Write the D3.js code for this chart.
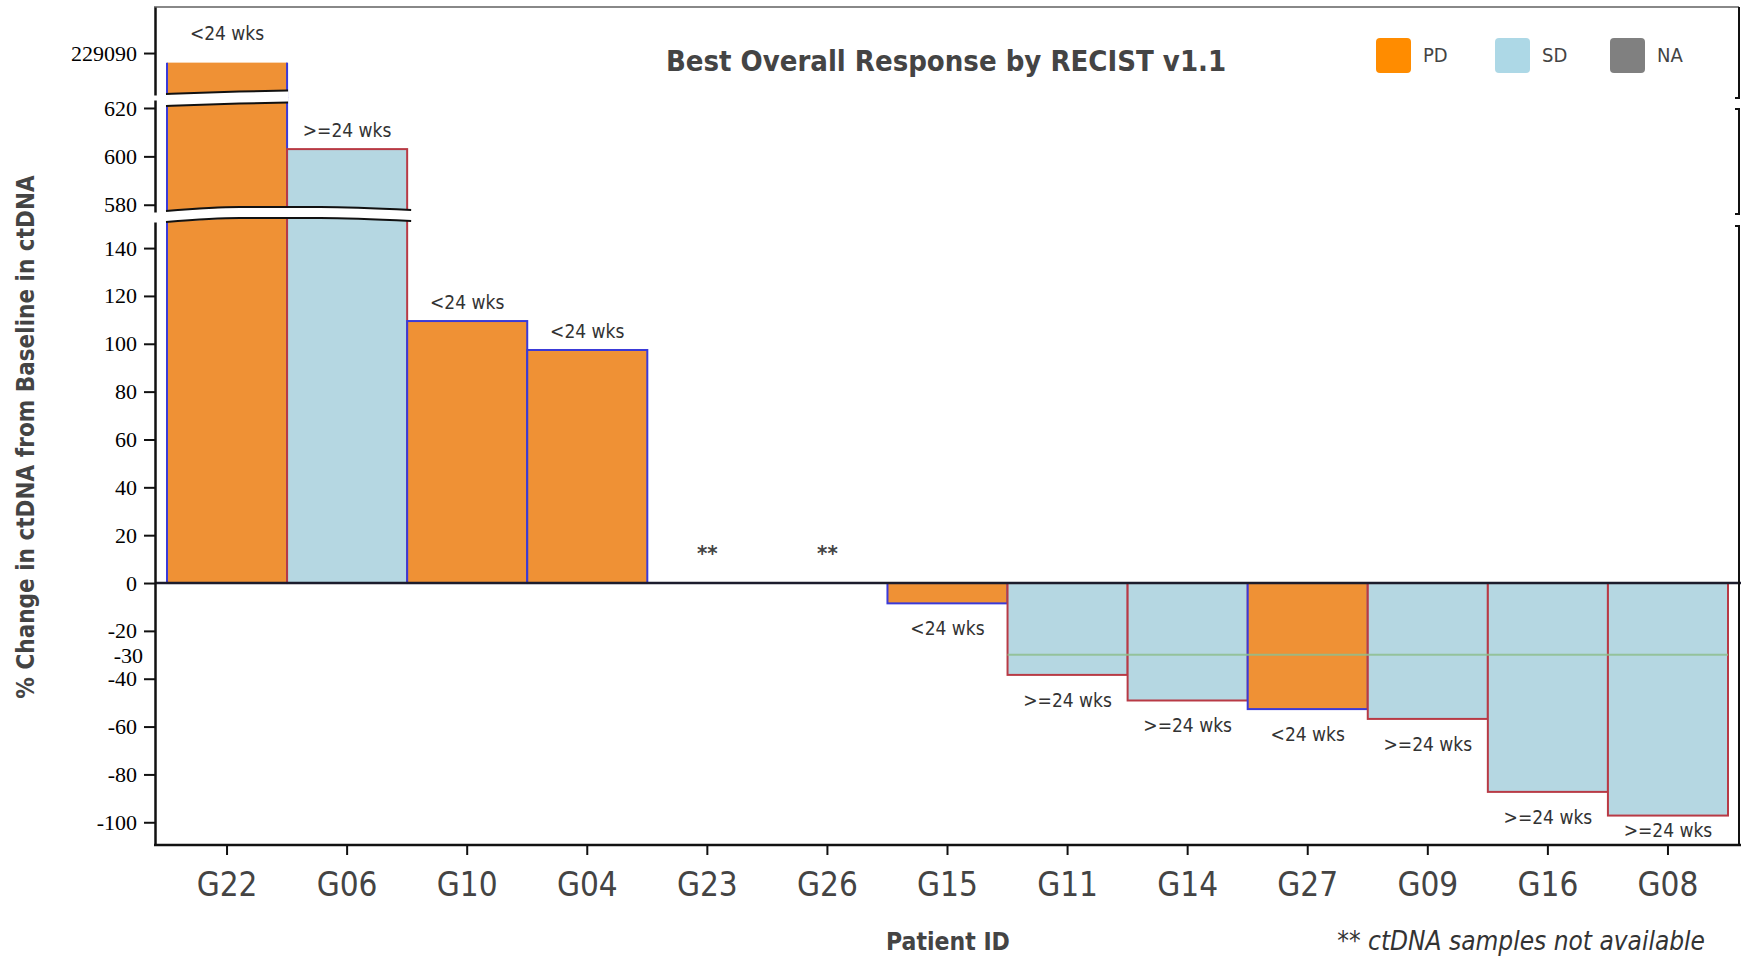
<!DOCTYPE html>
<html>
<head>
<meta charset="utf-8">
<script src="https://cdn.jsdelivr.net/npm/d3@7"></script>
<style>
  html, body { margin: 0; padding: 0; background: #fff; }
  svg { display: block; }
  text { font-family: "DejaVu Sans Condensed", "DejaVu Sans", sans-serif; }
</style>
</head>
<body>
<svg id="chart" width="1742" height="958"></svg>
<script>
// ---- data ----
const patients = ["G22","G06","G10","G04","G23","G26","G15","G11","G14","G27","G09","G16","G08"];
const pctChange = [229086, 603, 109.5, 97.4, null, null, -8.5, -38.4, -49.1, -52.7, -56.8, -87.3, -97.2];
const response  = ["PD","SD","PD","PD","NA","NA","PD","SD","SD","PD","SD","SD","SD"];
const duration  = ["<24 wks",">=24 wks","<24 wks","<24 wks","","","<24 wks",">=24 wks",">=24 wks","<24 wks",">=24 wks",">=24 wks",">=24 wks"];
const legendKeys = ["PD","SD","NA"];
const ticksTop = [229090];
const ticksMid = [580, 600, 620];
const ticksLow = [-100, -80, -60, -40, -20, 0, 20, 40, 60, 80, 100, 120, 140];
const refValue = -30;

const data = patients.map((p, i) => ({ id: p, v: pctChange[i], r: response[i], d: duration[i] }));

// ---- styles ----
const fillColor = { PD: "#EF9135", SD: "#B5D7E2", NA: "#808080" };
const strokeColor = { PD: "#3a3ad8", SD: "#b83a45", NA: "#555" };
const legendColor = { PD: "#FF8C00", SD: "#ADD8E6", NA: "#808080" };
const textGray = "#444";

const svg = d3.select("#chart");

// ---- scales ----
const x = d3.scaleBand().domain(patients).range([167, 1728]).padding(0);
const yTop = d3.scaleLinear().domain([229072.5, 229109.2]).range([95, 7]);
const yMid = d3.scaleLinear().domain([577, 623.3]).range([212, 100]);
const yLow = d3.scaleLinear().domain([-109.5, 150.9]).range([845, 222]);
const segments = [yTop, yMid, yLow];

const plotLeft = 155, plotRight = 1739;
const upperBandMid = (yTop.range()[0] + yMid.range()[1]) / 2 + 0.5;
const lowerBandMid = 215;

// ---- bars by segment ----
const gBars = svg.append("g");
segments.forEach((s, si) => {
  const [d0, d1] = s.domain();
  data.forEach(d => {
    if (d.v === null) return;
    let yA, yB;
    if (d.v >= 0) {
      if (d.v <= d0 && d0 > 0) return;
      yA = d.v > d1 ? (si === 1 ? upperBandMid : lowerBandMid) : s(d.v);
      yB = d0 > 0 ? (si === 0 ? upperBandMid : lowerBandMid) : s(0);
    } else {
      if (d0 > 0) return;
      yA = s(0);
      yB = s(Math.max(d.v, d0));
    }
    const y0 = Math.min(yA, yB), h = Math.abs(yB - yA);
    if (si === 0) {
      // top segment: flat-cut bar, side strokes only
      gBars.append("rect").attr("x", x(d.id)).attr("width", x.bandwidth())
        .attr("y", y0).attr("height", h).attr("fill", fillColor[d.r]);
      [x(d.id), x(d.id) + x.bandwidth()].forEach(xx => {
        gBars.append("line").attr("x1", xx).attr("x2", xx).attr("y1", y0).attr("y2", y0 + h)
          .attr("stroke", strokeColor[d.r]).attr("stroke-width", 2);
      });
    } else {
      gBars.append("rect")
        .attr("x", x(d.id)).attr("width", x.bandwidth())
        .attr("y", y0).attr("height", h)
        .attr("fill", fillColor[d.r])
        .attr("stroke", strokeColor[d.r])
        .attr("stroke-width", 2);
    }
  });
});

// ---- break bands (decoration) ----
function breakBand(x0, x1, baseTop, baseBot, fr, dy) {
  const pts = (base) => fr.map((f, i) => [x0 + f * (x1 - x0), base + dy[i]]);
  const line = d3.line().curve(d3.curveMonotoneX);
  const top = pts(baseTop), bot = pts(baseBot);
  const poly = top.concat(bot.slice().reverse());
  svg.append("path").attr("d", "M" + poly.map(p => p.join(",")).join("L") + "Z")
    .attr("fill", "#fff").attr("stroke", "none");
  svg.append("path").attr("d", line(top)).attr("fill", "none").attr("stroke", "#111").attr("stroke-width", 2);
  svg.append("path").attr("d", line(bot)).attr("fill", "none").attr("stroke", "#111").attr("stroke-width", 2);
}
breakBand(x("G22") - 1, x("G06") + x.bandwidth() + 4, yMid.range()[0] - 1, yLow.range()[1],
  [0, 0.3, 0.63, 1], [0, -4, -4, -1]);
breakBand(x("G22") - 1, x("G22") + x.bandwidth() + 1, yTop.range()[0] - 1, yTop.range()[0] + 11,
  [0, 0.6, 1], [0, -2.5, -3.5]);

// ---- reference line ----
svg.append("line")
  .attr("x1", x("G11")).attr("x2", x.range()[1])
  .attr("y1", yLow(refValue)).attr("y2", yLow(refValue))
  .attr("stroke", "#8fbf8f").attr("stroke-width", 2).attr("opacity", 0.85);

// ---- zero line ----
svg.append("line")
  .attr("x1", plotLeft).attr("x2", plotRight + 2)
  .attr("y1", yLow(0)).attr("y2", yLow(0))
  .attr("stroke", "#1c1c2c").attr("stroke-width", 2.5);

// ---- top border ----
svg.append("line").attr("x1", plotLeft - 1).attr("x2", plotRight)
  .attr("y1", 7).attr("y2", 7).attr("stroke", "#888").attr("stroke-width", 2);

// ---- right brackets ----
const rb = [[7, 98], [109, 214], [226, 845]];
rb.forEach(([a, b], i) => {
  let d = "";
  d += (i === 0 ? `M${plotRight},${a}` : `M${plotRight - 4},${a}L${plotRight},${a}`);
  d += `L${plotRight},${b}`;
  if (i < rb.length - 1) d += `L${plotRight - 4},${b}`;
  svg.append("path").attr("d", d).attr("fill", "none").attr("stroke", "#111").attr("stroke-width", 2);
});

// ---- y axes ----
function styleAxis(g) {
  g.selectAll(".domain").attr("stroke", "#111").attr("stroke-width", 2.5);
  g.selectAll(".tick line").attr("stroke", "#111").attr("stroke-width", 2);
  g.selectAll(".tick text").attr("fill", "#000")
    .style("font-family", "'Liberation Serif', 'Times New Roman', serif")
    .style("font-size", "22px");
}
[[yTop, ticksTop], [yMid, ticksMid], [yLow, ticksLow]].forEach(([s, t]) => {
  const g = svg.append("g").attr("transform", `translate(${plotLeft},0)`)
    .call(d3.axisLeft(s).tickValues(t).tickSize(11).tickSizeOuter(0).tickPadding(7).tickFormat(d => String(d)));
  styleAxis(g);
});
svg.append("text").attr("x", 143).attr("y", yLow(refValue) + 3)
  .attr("text-anchor", "end").attr("dominant-baseline", "middle")
  .style("font-family", "'Liberation Serif', 'Times New Roman', serif")
  .style("font-size", "22px").attr("fill", "#000").text(String(refValue));

// ---- x axis ----
const gx = svg.append("g").attr("transform", `translate(0,${yLow.range()[0]})`)
  .call(d3.axisBottom(x).tickSize(10).tickPadding(18));
gx.select(".domain").remove();
gx.selectAll(".tick line").attr("stroke", "#111").attr("stroke-width", 2);
gx.selectAll(".tick text").attr("fill", textGray).style("font-size", "33px");
svg.append("line").attr("x1", plotLeft - 1).attr("x2", plotRight + 2)
  .attr("y1", yLow.range()[0]).attr("y2", yLow.range()[0])
  .attr("stroke", "#111").attr("stroke-width", 2.5);

// ---- bar labels ----
const gl = svg.append("g").attr("fill", "#333").style("font-size", "19px").attr("text-anchor", "middle");
data.forEach(d => {
  const cx = x(d.id) + x.bandwidth() / 2;
  if (d.v === null) {
    svg.append("text").attr("x", cx).attr("y", yLow(0) - 22)
      .attr("text-anchor", "middle").attr("fill", textGray)
      .style("font-size", "22px").style("font-weight", "bold").text("**");
    return;
  }
  let yy;
  if (d.v >= 0) {
    if (d.v > yMid.domain()[1]) yy = yTop(d.v) - 23;
    else if (d.v > yLow.domain()[1]) yy = yMid(d.v) - 12;
    else yy = yLow(d.v) - 12;
  } else {
    yy = Math.min(yLow(d.v) + 32, yLow(-106));
  }
  gl.append("text").attr("x", cx).attr("y", yy).text(d.d);
});

// ---- title ----
svg.append("text").attr("x", 946).attr("y", 71).attr("text-anchor", "middle")
  .attr("fill", textGray).style("font-size", "29px").style("font-weight", "bold")
  .text("Best Overall Response by RECIST v1.1");

// ---- legend ----
const legX = [1376, 1495, 1610];
legendKeys.forEach((k, i) => {
  svg.append("rect").attr("x", legX[i]).attr("y", 38).attr("width", 35).attr("height", 35)
    .attr("rx", 4).attr("fill", legendColor[k]);
  svg.append("text").attr("x", legX[i] + 47).attr("y", 56).attr("dominant-baseline", "middle")
    .attr("fill", textGray).style("font-size", "20px").text(k);
});

// ---- axis titles ----
svg.append("text").attr("transform", "translate(27,437) rotate(-90)")
  .attr("text-anchor", "middle").attr("dominant-baseline", "middle")
  .attr("fill", textGray).style("font-size", "24px").style("font-weight", "bold")
  .text("% Change in ctDNA from Baseline in ctDNA");
svg.append("text").attr("x", 948).attr("y", 950).attr("text-anchor", "middle")
  .attr("fill", textGray).style("font-size", "24.5px").style("font-weight", "bold")
  .text("Patient ID");
svg.append("text").attr("x", 1705).attr("y", 950).attr("text-anchor", "end")
  .attr("fill", "#333").style("font-size", "26px").style("font-style", "italic")
  .text("** ctDNA samples not available");
</script>
</body>
</html>
